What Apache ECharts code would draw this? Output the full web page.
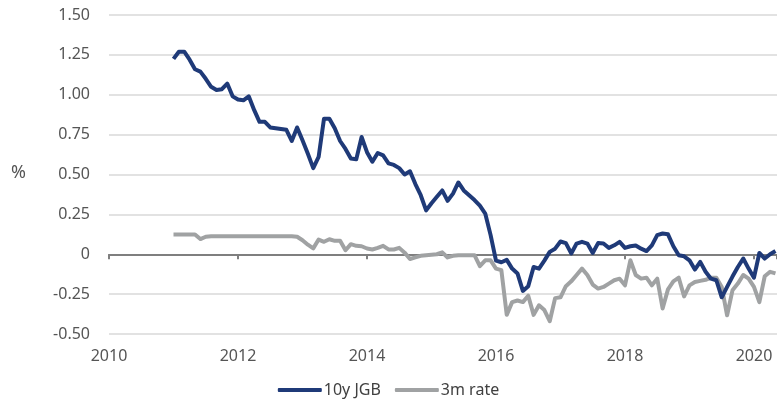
<!DOCTYPE html>
<html><head><meta charset="utf-8">
<script src="https://cdn.jsdelivr.net/npm/echarts@6/dist/echarts.min.js"></script>
<style>html,body{margin:0;padding:0;background:#fff}#c{width:777px;height:409px}</style>
</head><body><div id="c"></div>
<script>
// Monthly observations, first value = January 2011
const startYear = 2011;
const seriesNames = ['10y JGB', '3m rate'];
const xTicks = [2010, 2012, 2014, 2016, 2018, 2020];
const yTicks = [-0.5, -0.25, 0, 0.25, 0.5, 0.75, 1.0, 1.25, 1.5];

const jgb10y = [
  1.225, 1.27, 1.27, 1.22, 1.16, 1.145, 1.10, 1.05, 1.03, 1.035, 1.07, 0.99,
  0.97, 0.965, 0.99, 0.905, 0.83, 0.83, 0.795, 0.79, 0.785, 0.78, 0.71, 0.795,
  0.715, 0.63, 0.54, 0.61, 0.85, 0.85, 0.79, 0.71, 0.66, 0.60, 0.595, 0.735,
  0.64, 0.58, 0.635, 0.62, 0.57, 0.56, 0.54, 0.50, 0.52, 0.44, 0.37, 0.275,
  0.32, 0.36, 0.40, 0.335, 0.38, 0.45, 0.40, 0.37, 0.34, 0.305, 0.255, 0.12,
  -0.04, -0.05, -0.035, -0.09, -0.12, -0.23, -0.20, -0.08, -0.09, -0.04, 0.015, 0.035,
  0.08, 0.07, 0.005, 0.067, 0.078, 0.067, 0.008, 0.07, 0.067, 0.04, 0.056, 0.078,
  0.04, 0.05, 0.055, 0.035, 0.02, 0.056, 0.12, 0.13, 0.125, 0.05, -0.006, -0.013,
  -0.038, -0.096, -0.048, -0.11, -0.153, -0.163, -0.27, -0.205, -0.14, -0.08, -0.027, -0.09,
  -0.147, 0.008, -0.027, 0.0, 0.02
];
const rate3m = [
  0.124, 0.124, 0.124, 0.124, 0.124, 0.095, 0.11, 0.113, 0.113, 0.113, 0.113, 0.113,
  0.113, 0.113, 0.113, 0.113, 0.113, 0.113, 0.113, 0.113, 0.113, 0.113, 0.113, 0.11,
  0.088, 0.06, 0.037, 0.092, 0.078, 0.094, 0.084, 0.084, 0.025, 0.063, 0.053, 0.05,
  0.036, 0.03, 0.04, 0.053, 0.03, 0.03, 0.04, 0.01, -0.03, -0.02, -0.01, -0.006,
  -0.003, 0.0, 0.012, -0.02, -0.01, -0.006, -0.006, -0.006, -0.006, -0.075, -0.038, -0.038,
  -0.09, -0.10, -0.38, -0.30, -0.29, -0.30, -0.26, -0.38, -0.32, -0.35, -0.42, -0.275,
  -0.27, -0.20, -0.17, -0.13, -0.09, -0.13, -0.19, -0.215, -0.205, -0.184, -0.163, -0.153,
  -0.195, -0.038, -0.13, -0.153, -0.147, -0.195, -0.153, -0.34, -0.22, -0.17, -0.147, -0.264,
  -0.195, -0.174, -0.167, -0.16, -0.147, -0.147, -0.205, -0.383, -0.226, -0.184, -0.13, -0.153,
  -0.205, -0.30, -0.138, -0.11, -0.12
];

const toPairs = arr => arr.map((v, i) => [startYear + i / 12, v]);

const FONT = "'Noto Sans', 'Open Sans', sans-serif";
const X_MAX = 2020.357;
const chart = echarts.init(document.getElementById('c'), null, {renderer: 'canvas'});
chart.setOption({
  animation: false,
  backgroundColor: '#fff',
  grid: {left: 109, right: 0, top: 15, bottom: 75, containLabel: false, outerBoundsMode: 'none'},
  xAxis: [
    {
      // labels along the bottom edge
      type: 'value', min: xTicks[0], max: X_MAX, interval: 2, position: 'bottom',
      axisLine: {show: false, onZero: false}, axisTick: {show: false},
      axisLabel: {margin: 14, fontSize: 16, color: '#555555', fontFamily: FONT, showMaxLabel: false,
        formatter: v => xTicks.includes(v) ? String(v) : ''},
      splitLine: {show: false}
    },
    {
      // zero line with ticks
      type: 'value', min: xTicks[0], max: X_MAX, interval: 2, position: 'bottom',
      axisLine: {show: true, onZero: true, lineStyle: {color: '#7f7f7f', width: 2}},
      axisTick: {show: true, length: 5, lineStyle: {color: '#7f7f7f', width: 2}},
      axisLabel: {show: false},
      splitLine: {show: false}
    }
  ],
  yAxis: {
    type: 'value', min: yTicks[0], max: yTicks[yTicks.length - 1], interval: 0.25,
    axisLine: {show: false}, axisTick: {show: false},
    axisLabel: {margin: 19, fontSize: 16, color: '#555555', fontFamily: FONT,
      formatter: v => (Math.abs(v) < 1e-9 ? '0' : v.toFixed(2))},
    splitLine: {show: true, lineStyle: {color: '#d9d9d9', width: 1.5}}
  },
  legend: {
    bottom: 6, left: 'center', icon: 'roundRect', itemWidth: 44, itemHeight: 4, itemGap: 14,
    textStyle: {fontSize: 16, color: '#404040', fontFamily: FONT, padding: [0, 0, 0, -3]},
    data: seriesNames
  },
  graphic: [{type: 'text', left: 11, top: 164, style: {text: '%', fontSize: 18, fill: '#555555', fontFamily: FONT}}],
  series: [
    {name: seriesNames[0], type: 'line', xAxisIndex: 0, data: toPairs(jgb10y), showSymbol: false, symbol: 'none', z: 3,
      lineStyle: {color: '#1f3a78', width: 4, join: 'round'}, itemStyle: {color: '#1f3a78'}},
    {name: seriesNames[1], type: 'line', xAxisIndex: 0, data: toPairs(rate3m), showSymbol: false, symbol: 'none', z: 2,
      lineStyle: {color: '#a0a2a3', width: 4, join: 'round'}, itemStyle: {color: '#a0a2a3'}}
  ]
});
</script></body></html>
